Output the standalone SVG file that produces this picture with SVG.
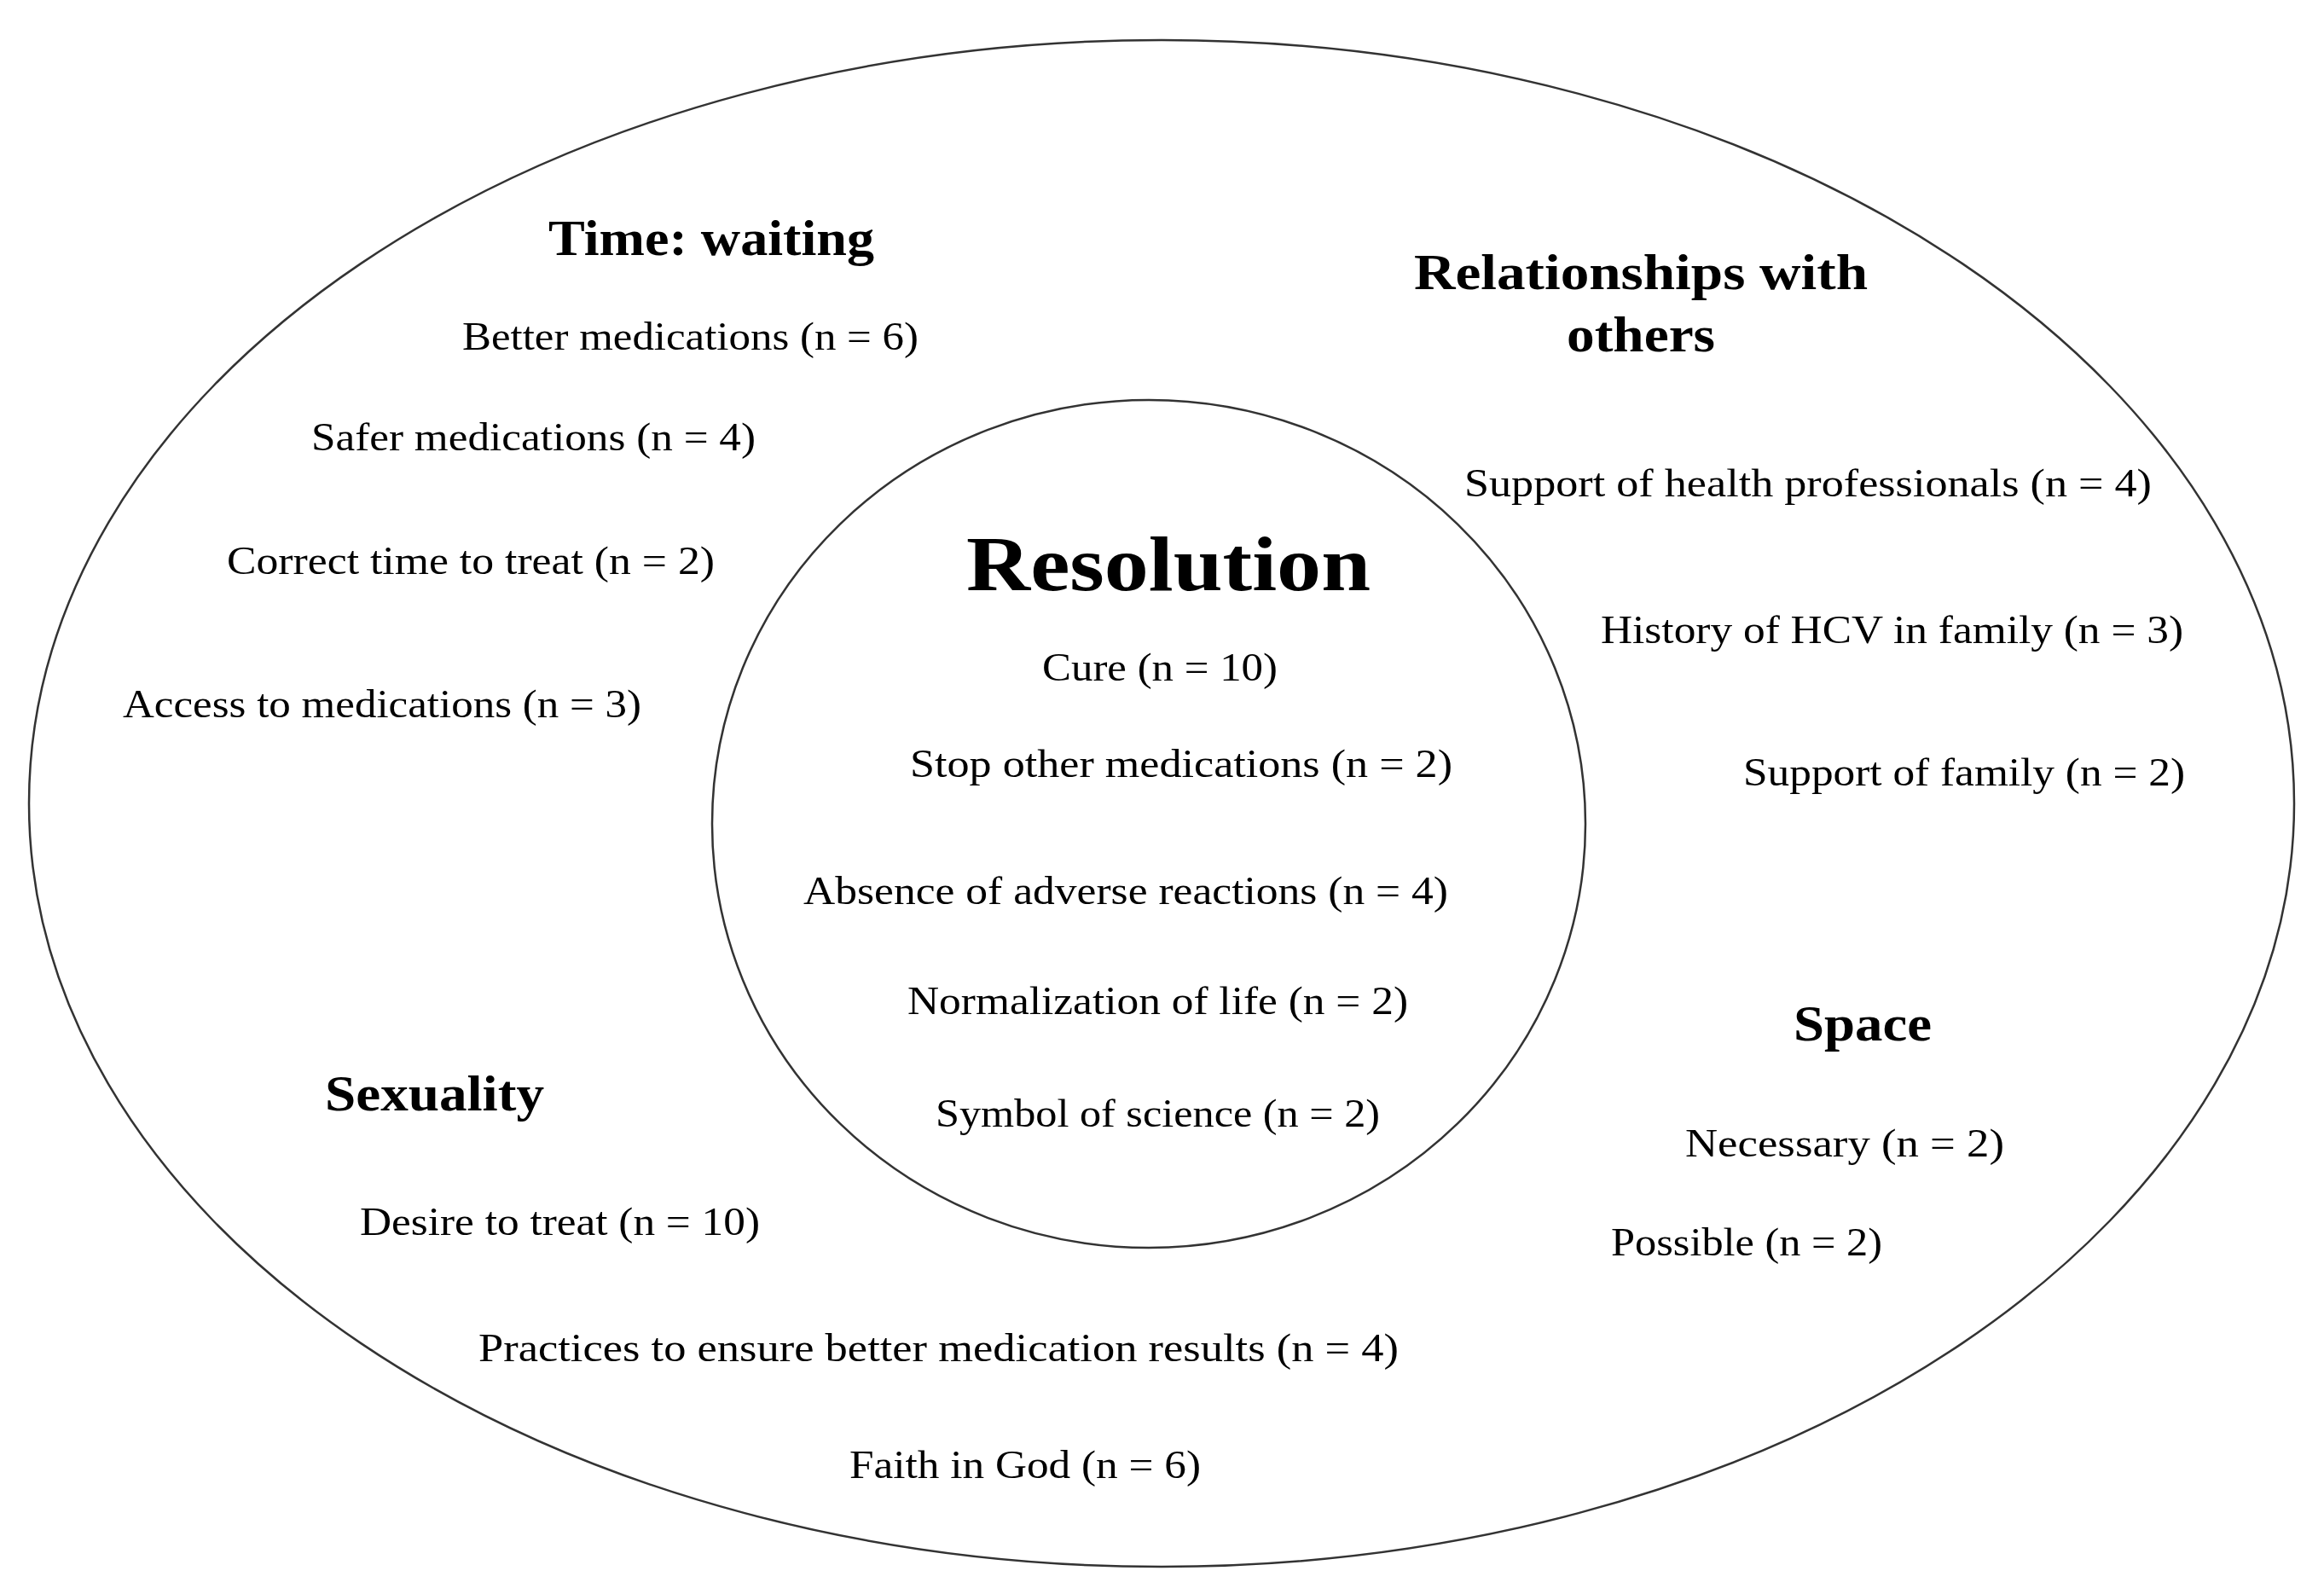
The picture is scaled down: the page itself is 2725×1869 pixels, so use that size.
<svg xmlns="http://www.w3.org/2000/svg" width="2725" height="1869" viewBox="0 0 2725 1869">
<style>
text{lengthAdjust:spacingAndGlyphs}
.t{font-family:"Liberation Serif",serif;font-size:46px;fill:#000}
.h{font-family:"Liberation Serif",serif;font-size:60px;font-weight:bold;fill:#000}
.r{font-family:"Liberation Serif",serif;font-size:92px;font-weight:bold;fill:#000}
.e{fill:none;stroke:#333;stroke-width:2.5}
</style>
<rect width="2725" height="1869" fill="#fff"/>
<g id="outer"><ellipse class="e" cx="1362" cy="942" rx="1328" ry="895"/></g>
<g id="inner"><ellipse class="e" cx="1347" cy="966" rx="512" ry="497"/></g>
<g id="time">
<text class="h" x="643" y="299" textLength="382" lengthAdjust="spacingAndGlyphs">Time: waiting</text>
<text class="t" x="542" y="410" textLength="535" lengthAdjust="spacingAndGlyphs">Better medications (n = 6)</text>
<text class="t" x="365" y="528" textLength="521" lengthAdjust="spacingAndGlyphs">Safer medications (n = 4)</text>
<text class="t" x="266" y="673" textLength="572" lengthAdjust="spacingAndGlyphs">Correct time to treat (n = 2)</text>
<text class="t" x="144" y="841" textLength="608" lengthAdjust="spacingAndGlyphs">Access to medications (n = 3)</text>
</g>
<g id="relationships">
<text class="h" x="1658" y="339" textLength="532" lengthAdjust="spacingAndGlyphs">Relationships with</text>
<text class="h" x="1837" y="412" textLength="174" lengthAdjust="spacingAndGlyphs">others</text>
<text class="t" x="1717" y="582" textLength="806" lengthAdjust="spacingAndGlyphs">Support of health professionals (n = 4)</text>
<text class="t" x="1877" y="754" textLength="683" lengthAdjust="spacingAndGlyphs">History of HCV in family (n = 3)</text>
<text class="t" x="2044" y="921" textLength="518" lengthAdjust="spacingAndGlyphs">Support of family (n = 2)</text>
</g>
<g id="resolution">
<text class="r" x="1133" y="692" textLength="474" lengthAdjust="spacingAndGlyphs">Resolution</text>
<text class="t" x="1222" y="798" textLength="276" lengthAdjust="spacingAndGlyphs">Cure (n = 10)</text>
<text class="t" x="1067" y="911" textLength="636" lengthAdjust="spacingAndGlyphs">Stop other medications (n = 2)</text>
<text class="t" x="942" y="1060" textLength="756" lengthAdjust="spacingAndGlyphs">Absence of adverse reactions (n = 4)</text>
<text class="t" x="1064" y="1189" textLength="587" lengthAdjust="spacingAndGlyphs">Normalization of life (n = 2)</text>
<text class="t" x="1097" y="1321" textLength="521" lengthAdjust="spacingAndGlyphs">Symbol of science (n = 2)</text>
</g>
<g id="space">
<text class="h" x="2103" y="1220" textLength="162" lengthAdjust="spacingAndGlyphs">Space</text>
<text class="t" x="1976" y="1356" textLength="374" lengthAdjust="spacingAndGlyphs">Necessary (n = 2)</text>
<text class="t" x="1889" y="1472" textLength="318" lengthAdjust="spacingAndGlyphs">Possible (n = 2)</text>
</g>
<g id="sexuality">
<text class="h" x="381" y="1302" textLength="257" lengthAdjust="spacingAndGlyphs">Sexuality</text>
<text class="t" x="422" y="1448" textLength="469" lengthAdjust="spacingAndGlyphs">Desire to treat (n = 10)</text>
<text class="t" x="561" y="1596" textLength="1079" lengthAdjust="spacingAndGlyphs">Practices to ensure better medication results (n = 4)</text>
<text class="t" x="996" y="1733" textLength="412" lengthAdjust="spacingAndGlyphs">Faith in God (n = 6)</text>
</g>
<g id="connectors"></g>
</svg>
